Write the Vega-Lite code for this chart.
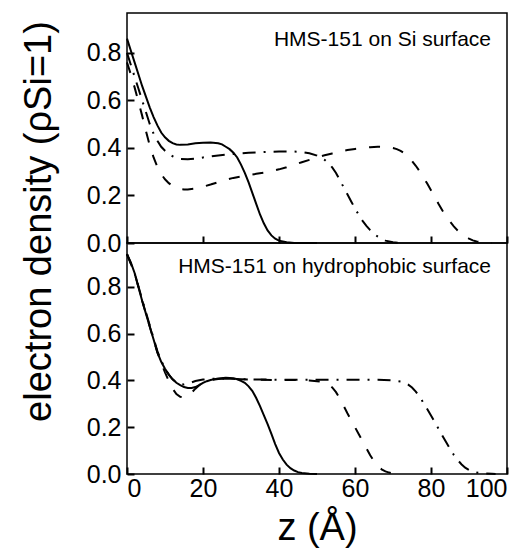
{
  "$schema": "https://vega.github.io/schema/vega-lite/v6.json",
  "padding": {"left": 19, "top": 12, "right": 5, "bottom": 0},
  "bounds": "flush",
  "spacing": 0,
  "config": {
    "font": "Liberation Sans",
    "view": {"stroke": "#000", "strokeWidth": 1.5},
    "axis": {
      "domain": false, "grid": false,
      "labelColor": "#000", "labelFont": "Liberation Sans", "labelFontSize": 25,
      "titleFont": "Liberation Sans", "titleFontSize": 38, "titleFontWeight": "normal", "titleColor": "#000",
      "labelOverlap": false
    }
  },
  "datasets": {
    "labels": [
      {"panel": "Si", "label": "HMS-151 on Si surface"},
      {"panel": "hydrophobic", "label": "HMS-151 on hydrophobic surface"}
    ],
    "curves": [
      {"panel":"Si","series":"A","z":0,"rho":0.86},{"panel":"Si","series":"A","z":1,"rho":0.81},{"panel":"Si","series":"A","z":2,"rho":0.76},{"panel":"Si","series":"A","z":3,"rho":0.71},{"panel":"Si","series":"A","z":4,"rho":0.66},{"panel":"Si","series":"A","z":5,"rho":0.615},{"panel":"Si","series":"A","z":6,"rho":0.57},{"panel":"Si","series":"A","z":7,"rho":0.53},{"panel":"Si","series":"A","z":8,"rho":0.495},{"panel":"Si","series":"A","z":9,"rho":0.465},{"panel":"Si","series":"A","z":10,"rho":0.445},{"panel":"Si","series":"A","z":11,"rho":0.43},{"panel":"Si","series":"A","z":12,"rho":0.42},{"panel":"Si","series":"A","z":13,"rho":0.415},{"panel":"Si","series":"A","z":14,"rho":0.413},{"panel":"Si","series":"A","z":16,"rho":0.415},{"panel":"Si","series":"A","z":18,"rho":0.42},{"panel":"Si","series":"A","z":20,"rho":0.422},{"panel":"Si","series":"A","z":22,"rho":0.423},{"panel":"Si","series":"A","z":24,"rho":0.42},{"panel":"Si","series":"A","z":25,"rho":0.415},{"panel":"Si","series":"A","z":26,"rho":0.405},{"panel":"Si","series":"A","z":27,"rho":0.395},{"panel":"Si","series":"A","z":28,"rho":0.38},{"panel":"Si","series":"A","z":29,"rho":0.36},{"panel":"Si","series":"A","z":30,"rho":0.33},{"panel":"Si","series":"A","z":31,"rho":0.295},{"panel":"Si","series":"A","z":32,"rho":0.255},{"panel":"Si","series":"A","z":33,"rho":0.21},{"panel":"Si","series":"A","z":34,"rho":0.165},{"panel":"Si","series":"A","z":35,"rho":0.12},{"panel":"Si","series":"A","z":36,"rho":0.083},{"panel":"Si","series":"A","z":37,"rho":0.053},{"panel":"Si","series":"A","z":38,"rho":0.032},{"panel":"Si","series":"A","z":39,"rho":0.018},{"panel":"Si","series":"A","z":40,"rho":0.01},{"panel":"Si","series":"A","z":42,"rho":0.003},{"panel":"Si","series":"A","z":44,"rho":0},{"panel":"Si","series":"A","z":50,"rho":0},

      {"panel":"Si","series":"B","z":0,"rho":0.76},{"panel":"Si","series":"B","z":1,"rho":0.71},{"panel":"Si","series":"B","z":2,"rho":0.655},{"panel":"Si","series":"B","z":3,"rho":0.595},{"panel":"Si","series":"B","z":4,"rho":0.535},{"panel":"Si","series":"B","z":5,"rho":0.47},{"panel":"Si","series":"B","z":6,"rho":0.41},{"panel":"Si","series":"B","z":7,"rho":0.36},{"panel":"Si","series":"B","z":8,"rho":0.32},{"panel":"Si","series":"B","z":9,"rho":0.29},{"panel":"Si","series":"B","z":10,"rho":0.268},{"panel":"Si","series":"B","z":11,"rho":0.252},{"panel":"Si","series":"B","z":12,"rho":0.24},{"panel":"Si","series":"B","z":13,"rho":0.232},{"panel":"Si","series":"B","z":14,"rho":0.227},{"panel":"Si","series":"B","z":15,"rho":0.225},{"panel":"Si","series":"B","z":16,"rho":0.225},{"panel":"Si","series":"B","z":18,"rho":0.229},{"panel":"Si","series":"B","z":20,"rho":0.237},{"panel":"Si","series":"B","z":22,"rho":0.246},{"panel":"Si","series":"B","z":24,"rho":0.256},{"panel":"Si","series":"B","z":26,"rho":0.266},{"panel":"Si","series":"B","z":28,"rho":0.274},{"panel":"Si","series":"B","z":30,"rho":0.28},{"panel":"Si","series":"B","z":32,"rho":0.286},{"panel":"Si","series":"B","z":34,"rho":0.291},{"panel":"Si","series":"B","z":36,"rho":0.296},{"panel":"Si","series":"B","z":38,"rho":0.302},{"panel":"Si","series":"B","z":40,"rho":0.31},{"panel":"Si","series":"B","z":42,"rho":0.319},{"panel":"Si","series":"B","z":44,"rho":0.329},{"panel":"Si","series":"B","z":46,"rho":0.34},{"panel":"Si","series":"B","z":48,"rho":0.35},{"panel":"Si","series":"B","z":50,"rho":0.36},{"panel":"Si","series":"B","z":52,"rho":0.369},{"panel":"Si","series":"B","z":54,"rho":0.377},{"panel":"Si","series":"B","z":56,"rho":0.385},{"panel":"Si","series":"B","z":58,"rho":0.391},{"panel":"Si","series":"B","z":60,"rho":0.396},{"panel":"Si","series":"B","z":62,"rho":0.4},{"panel":"Si","series":"B","z":64,"rho":0.403},{"panel":"Si","series":"B","z":66,"rho":0.405},{"panel":"Si","series":"B","z":68,"rho":0.405},{"panel":"Si","series":"B","z":70,"rho":0.4},{"panel":"Si","series":"B","z":71,"rho":0.395},{"panel":"Si","series":"B","z":72,"rho":0.388},{"panel":"Si","series":"B","z":73,"rho":0.378},{"panel":"Si","series":"B","z":74,"rho":0.362},{"panel":"Si","series":"B","z":75,"rho":0.345},{"panel":"Si","series":"B","z":76,"rho":0.325},{"panel":"Si","series":"B","z":77,"rho":0.302},{"panel":"Si","series":"B","z":78,"rho":0.277},{"panel":"Si","series":"B","z":79,"rho":0.25},{"panel":"Si","series":"B","z":80,"rho":0.222},{"panel":"Si","series":"B","z":81,"rho":0.193},{"panel":"Si","series":"B","z":82,"rho":0.164},{"panel":"Si","series":"B","z":83,"rho":0.137},{"panel":"Si","series":"B","z":84,"rho":0.112},{"panel":"Si","series":"B","z":85,"rho":0.09},{"panel":"Si","series":"B","z":86,"rho":0.07},{"panel":"Si","series":"B","z":87,"rho":0.053},{"panel":"Si","series":"B","z":88,"rho":0.039},{"panel":"Si","series":"B","z":89,"rho":0.027},{"panel":"Si","series":"B","z":90,"rho":0.018},{"panel":"Si","series":"B","z":91,"rho":0.011},{"panel":"Si","series":"B","z":92,"rho":0.006},{"panel":"Si","series":"B","z":94,"rho":0.002},{"panel":"Si","series":"B","z":96,"rho":0},

      {"panel":"Si","series":"C","z":0,"rho":0.8},{"panel":"Si","series":"C","z":1,"rho":0.75},{"panel":"Si","series":"C","z":2,"rho":0.7},{"panel":"Si","series":"C","z":3,"rho":0.65},{"panel":"Si","series":"C","z":4,"rho":0.6},{"panel":"Si","series":"C","z":5,"rho":0.55},{"panel":"Si","series":"C","z":6,"rho":0.5},{"panel":"Si","series":"C","z":7,"rho":0.46},{"panel":"Si","series":"C","z":8,"rho":0.43},{"panel":"Si","series":"C","z":9,"rho":0.405},{"panel":"Si","series":"C","z":10,"rho":0.388},{"panel":"Si","series":"C","z":11,"rho":0.375},{"panel":"Si","series":"C","z":12,"rho":0.365},{"panel":"Si","series":"C","z":13,"rho":0.358},{"panel":"Si","series":"C","z":14,"rho":0.354},{"panel":"Si","series":"C","z":16,"rho":0.352},{"panel":"Si","series":"C","z":18,"rho":0.355},{"panel":"Si","series":"C","z":20,"rho":0.36},{"panel":"Si","series":"C","z":24,"rho":0.368},{"panel":"Si","series":"C","z":28,"rho":0.375},{"panel":"Si","series":"C","z":32,"rho":0.38},{"panel":"Si","series":"C","z":36,"rho":0.383},{"panel":"Si","series":"C","z":40,"rho":0.385},{"panel":"Si","series":"C","z":44,"rho":0.385},{"panel":"Si","series":"C","z":46,"rho":0.383},{"panel":"Si","series":"C","z":48,"rho":0.378},{"panel":"Si","series":"C","z":50,"rho":0.368},{"panel":"Si","series":"C","z":52,"rho":0.35},{"panel":"Si","series":"C","z":53,"rho":0.336},{"panel":"Si","series":"C","z":54,"rho":0.318},{"panel":"Si","series":"C","z":55,"rho":0.295},{"panel":"Si","series":"C","z":56,"rho":0.265},{"panel":"Si","series":"C","z":57,"rho":0.235},{"panel":"Si","series":"C","z":58,"rho":0.205},{"panel":"Si","series":"C","z":59,"rho":0.175},{"panel":"Si","series":"C","z":60,"rho":0.145},{"panel":"Si","series":"C","z":61,"rho":0.118},{"panel":"Si","series":"C","z":62,"rho":0.093},{"panel":"Si","series":"C","z":63,"rho":0.072},{"panel":"Si","series":"C","z":64,"rho":0.054},{"panel":"Si","series":"C","z":65,"rho":0.039},{"panel":"Si","series":"C","z":66,"rho":0.027},{"panel":"Si","series":"C","z":67,"rho":0.017},{"panel":"Si","series":"C","z":68,"rho":0.01},{"panel":"Si","series":"C","z":70,"rho":0.003},{"panel":"Si","series":"C","z":72,"rho":0},

      {"panel":"hydrophobic","series":"A","z":0,"rho":0.94},{"panel":"hydrophobic","series":"A","z":1,"rho":0.905},{"panel":"hydrophobic","series":"A","z":2,"rho":0.86},{"panel":"hydrophobic","series":"A","z":3,"rho":0.8},{"panel":"hydrophobic","series":"A","z":4,"rho":0.74},{"panel":"hydrophobic","series":"A","z":5,"rho":0.685},{"panel":"hydrophobic","series":"A","z":6,"rho":0.63},{"panel":"hydrophobic","series":"A","z":7,"rho":0.575},{"panel":"hydrophobic","series":"A","z":8,"rho":0.52},{"panel":"hydrophobic","series":"A","z":9,"rho":0.48},{"panel":"hydrophobic","series":"A","z":10,"rho":0.45},{"panel":"hydrophobic","series":"A","z":11,"rho":0.425},{"panel":"hydrophobic","series":"A","z":12,"rho":0.405},{"panel":"hydrophobic","series":"A","z":13,"rho":0.39},{"panel":"hydrophobic","series":"A","z":14,"rho":0.38},{"panel":"hydrophobic","series":"A","z":15,"rho":0.372},{"panel":"hydrophobic","series":"A","z":16,"rho":0.368},{"panel":"hydrophobic","series":"A","z":17,"rho":0.368},{"panel":"hydrophobic","series":"A","z":18,"rho":0.372},{"panel":"hydrophobic","series":"A","z":19,"rho":0.38},{"panel":"hydrophobic","series":"A","z":20,"rho":0.39},{"panel":"hydrophobic","series":"A","z":21,"rho":0.397},{"panel":"hydrophobic","series":"A","z":22,"rho":0.402},{"panel":"hydrophobic","series":"A","z":24,"rho":0.409},{"panel":"hydrophobic","series":"A","z":26,"rho":0.412},{"panel":"hydrophobic","series":"A","z":28,"rho":0.41},{"panel":"hydrophobic","series":"A","z":29,"rho":0.405},{"panel":"hydrophobic","series":"A","z":30,"rho":0.398},{"panel":"hydrophobic","series":"A","z":31,"rho":0.39},{"panel":"hydrophobic","series":"A","z":32,"rho":0.375},{"panel":"hydrophobic","series":"A","z":33,"rho":0.355},{"panel":"hydrophobic","series":"A","z":34,"rho":0.325},{"panel":"hydrophobic","series":"A","z":35,"rho":0.29},{"panel":"hydrophobic","series":"A","z":36,"rho":0.252},{"panel":"hydrophobic","series":"A","z":37,"rho":0.213},{"panel":"hydrophobic","series":"A","z":38,"rho":0.172},{"panel":"hydrophobic","series":"A","z":39,"rho":0.128},{"panel":"hydrophobic","series":"A","z":40,"rho":0.09},{"panel":"hydrophobic","series":"A","z":41,"rho":0.062},{"panel":"hydrophobic","series":"A","z":42,"rho":0.04},{"panel":"hydrophobic","series":"A","z":43,"rho":0.025},{"panel":"hydrophobic","series":"A","z":44,"rho":0.015},{"panel":"hydrophobic","series":"A","z":45,"rho":0.008},{"panel":"hydrophobic","series":"A","z":46,"rho":0.004},{"panel":"hydrophobic","series":"A","z":48,"rho":0.001},{"panel":"hydrophobic","series":"A","z":50,"rho":0},

      {"panel":"hydrophobic","series":"B","z":0,"rho":0.94},{"panel":"hydrophobic","series":"B","z":2,"rho":0.86},{"panel":"hydrophobic","series":"B","z":4,"rho":0.74},{"panel":"hydrophobic","series":"B","z":6,"rho":0.63},{"panel":"hydrophobic","series":"B","z":8,"rho":0.52},{"panel":"hydrophobic","series":"B","z":9,"rho":0.475},{"panel":"hydrophobic","series":"B","z":10,"rho":0.435},{"panel":"hydrophobic","series":"B","z":11,"rho":0.398},{"panel":"hydrophobic","series":"B","z":12,"rho":0.365},{"panel":"hydrophobic","series":"B","z":13,"rho":0.342},{"panel":"hydrophobic","series":"B","z":14,"rho":0.33},{"panel":"hydrophobic","series":"B","z":15,"rho":0.328},{"panel":"hydrophobic","series":"B","z":16,"rho":0.335},{"panel":"hydrophobic","series":"B","z":17,"rho":0.348},{"panel":"hydrophobic","series":"B","z":18,"rho":0.365},{"panel":"hydrophobic","series":"B","z":19,"rho":0.38},{"panel":"hydrophobic","series":"B","z":20,"rho":0.392},{"panel":"hydrophobic","series":"B","z":22,"rho":0.402},{"panel":"hydrophobic","series":"B","z":24,"rho":0.406},{"panel":"hydrophobic","series":"B","z":26,"rho":0.408},{"panel":"hydrophobic","series":"B","z":30,"rho":0.405},{"panel":"hydrophobic","series":"B","z":35,"rho":0.403},{"panel":"hydrophobic","series":"B","z":40,"rho":0.402},{"panel":"hydrophobic","series":"B","z":45,"rho":0.402},{"panel":"hydrophobic","series":"B","z":48,"rho":0.4},{"panel":"hydrophobic","series":"B","z":50,"rho":0.397},{"panel":"hydrophobic","series":"B","z":51,"rho":0.395},{"panel":"hydrophobic","series":"B","z":52,"rho":0.39},{"panel":"hydrophobic","series":"B","z":53,"rho":0.383},{"panel":"hydrophobic","series":"B","z":54,"rho":0.37},{"panel":"hydrophobic","series":"B","z":55,"rho":0.35},{"panel":"hydrophobic","series":"B","z":56,"rho":0.323},{"panel":"hydrophobic","series":"B","z":57,"rho":0.292},{"panel":"hydrophobic","series":"B","z":58,"rho":0.26},{"panel":"hydrophobic","series":"B","z":59,"rho":0.23},{"panel":"hydrophobic","series":"B","z":60,"rho":0.2},{"panel":"hydrophobic","series":"B","z":61,"rho":0.17},{"panel":"hydrophobic","series":"B","z":62,"rho":0.14},{"panel":"hydrophobic","series":"B","z":63,"rho":0.11},{"panel":"hydrophobic","series":"B","z":64,"rho":0.08},{"panel":"hydrophobic","series":"B","z":65,"rho":0.055},{"panel":"hydrophobic","series":"B","z":66,"rho":0.035},{"panel":"hydrophobic","series":"B","z":67,"rho":0.02},{"panel":"hydrophobic","series":"B","z":68,"rho":0.011},{"panel":"hydrophobic","series":"B","z":69,"rho":0.006},{"panel":"hydrophobic","series":"B","z":70,"rho":0.003},{"panel":"hydrophobic","series":"B","z":72,"rho":0},

      {"panel":"hydrophobic","series":"C","z":0,"rho":0.94},{"panel":"hydrophobic","series":"C","z":2,"rho":0.86},{"panel":"hydrophobic","series":"C","z":4,"rho":0.745},{"panel":"hydrophobic","series":"C","z":6,"rho":0.635},{"panel":"hydrophobic","series":"C","z":8,"rho":0.525},{"panel":"hydrophobic","series":"C","z":9,"rho":0.485},{"panel":"hydrophobic","series":"C","z":10,"rho":0.45},{"panel":"hydrophobic","series":"C","z":11,"rho":0.425},{"panel":"hydrophobic","series":"C","z":12,"rho":0.405},{"panel":"hydrophobic","series":"C","z":13,"rho":0.392},{"panel":"hydrophobic","series":"C","z":14,"rho":0.385},{"panel":"hydrophobic","series":"C","z":15,"rho":0.383},{"panel":"hydrophobic","series":"C","z":16,"rho":0.386},{"panel":"hydrophobic","series":"C","z":17,"rho":0.392},{"panel":"hydrophobic","series":"C","z":18,"rho":0.398},{"panel":"hydrophobic","series":"C","z":20,"rho":0.404},{"panel":"hydrophobic","series":"C","z":22,"rho":0.407},{"panel":"hydrophobic","series":"C","z":26,"rho":0.408},{"panel":"hydrophobic","series":"C","z":30,"rho":0.405},{"panel":"hydrophobic","series":"C","z":40,"rho":0.403},{"panel":"hydrophobic","series":"C","z":50,"rho":0.403},{"panel":"hydrophobic","series":"C","z":60,"rho":0.403},{"panel":"hydrophobic","series":"C","z":66,"rho":0.403},{"panel":"hydrophobic","series":"C","z":70,"rho":0.4},{"panel":"hydrophobic","series":"C","z":72,"rho":0.396},{"panel":"hydrophobic","series":"C","z":73,"rho":0.39},{"panel":"hydrophobic","series":"C","z":74,"rho":0.382},{"panel":"hydrophobic","series":"C","z":75,"rho":0.37},{"panel":"hydrophobic","series":"C","z":76,"rho":0.352},{"panel":"hydrophobic","series":"C","z":77,"rho":0.33},{"panel":"hydrophobic","series":"C","z":78,"rho":0.305},{"panel":"hydrophobic","series":"C","z":79,"rho":0.278},{"panel":"hydrophobic","series":"C","z":80,"rho":0.25},{"panel":"hydrophobic","series":"C","z":81,"rho":0.222},{"panel":"hydrophobic","series":"C","z":82,"rho":0.193},{"panel":"hydrophobic","series":"C","z":83,"rho":0.164},{"panel":"hydrophobic","series":"C","z":84,"rho":0.136},{"panel":"hydrophobic","series":"C","z":85,"rho":0.108},{"panel":"hydrophobic","series":"C","z":86,"rho":0.082},{"panel":"hydrophobic","series":"C","z":87,"rho":0.06},{"panel":"hydrophobic","series":"C","z":88,"rho":0.042},{"panel":"hydrophobic","series":"C","z":89,"rho":0.027},{"panel":"hydrophobic","series":"C","z":90,"rho":0.017},{"panel":"hydrophobic","series":"C","z":91,"rho":0.01},{"panel":"hydrophobic","series":"C","z":92,"rho":0.006},{"panel":"hydrophobic","series":"C","z":94,"rho":0.003},{"panel":"hydrophobic","series":"C","z":96,"rho":0.001},{"panel":"hydrophobic","series":"C","z":97,"rho":0}
    ]
  },
  "vconcat": [
    {
      "width": 380,
      "height": 230,
      "layer": [
        {
          "data": {"name": "curves"},
          "transform": [{"filter": "datum.panel === 'Si' && datum.series === 'A'"}],
          "mark": {"type": "line", "strokeWidth": 2, "color": "#000"},
          "encoding": {
            "x": {
              "field": "z", "type": "quantitative",
              "scale": {"domain": [0, 100], "nice": false},
              "axis": {"values": [0, 20, 40, 60, 80, 100], "labels": false, "title": null, "tickSize": -7, "tickColor": "black", "tickWidth": 2}
            },
            "y": {
              "field": "rho", "type": "quantitative",
              "scale": {"domain": [0, 0.968], "nice": false},
              "axis": {
                "values": [0, 0.2, 0.4, 0.6, 0.8], "format": ".1f",
                "tickSize": -7, "tickColor": "black", "tickWidth": 2, "labelPadding": 13,
                "title": "electron density (ρSi=1)", "titleY": 208, "titlePadding": 28
              }
            }
          }
        },
        {
          "data": {"name": "curves"},
          "transform": [{"filter": "datum.panel === 'Si' && datum.series === 'B'"}],
          "mark": {"type": "line", "strokeWidth": 2, "color": "#000", "strokeDash": [11, 13]},
          "encoding": {
            "x": {"field": "z", "type": "quantitative"},
            "y": {"field": "rho", "type": "quantitative"}
          }
        },
        {
          "data": {"name": "curves"},
          "transform": [{"filter": "datum.panel === 'Si' && datum.series === 'C'"}],
          "mark": {"type": "line", "strokeWidth": 2, "color": "#000", "strokeDash": [13, 8, 2, 8]},
          "encoding": {
            "x": {"field": "z", "type": "quantitative"},
            "y": {"field": "rho", "type": "quantitative"}
          }
        },
        {
          "data": {"name": "labels"},
          "transform": [{"filter": "datum.panel === 'Si'"}],
          "mark": {"type": "text", "align": "right", "baseline": "alphabetic", "fontSize": 21, "color": "#000", "font": "Liberation Sans"},
          "encoding": {
            "x": {"datum": 95.8, "type": "quantitative"},
            "y": {"datum": 0.83, "type": "quantitative"},
            "text": {"field": "label"}
          }
        }
      ]
    },
    {
      "width": 380,
      "height": 231,
      "layer": [
        {
          "data": {"name": "curves"},
          "transform": [{"filter": "datum.panel === 'hydrophobic' && datum.series === 'A'"}],
          "mark": {"type": "line", "strokeWidth": 2, "color": "#000"},
          "encoding": {
            "x": {
              "field": "z", "type": "quantitative",
              "scale": {"domain": [0, 100], "nice": false},
              "axis": {"values": [0, 20, 40, 60, 80, 100], "tickSize": -7, "tickColor": "black", "tickWidth": 2, "labelPadding": 9, "title": "z (Å)", "titlePadding": 8}
            },
            "y": {
              "field": "rho", "type": "quantitative",
              "scale": {"domain": [0, 0.988], "nice": false},
              "axis": {"values": [0, 0.2, 0.4, 0.6, 0.8], "format": ".1f", "tickSize": -7, "tickColor": "black", "tickWidth": 2, "labelPadding": 13, "title": null}
            }
          }
        },
        {
          "data": {"name": "curves"},
          "transform": [{"filter": "datum.panel === 'hydrophobic' && datum.series === 'B'"}],
          "mark": {"type": "line", "strokeWidth": 2, "color": "#000", "strokeDash": [11, 13]},
          "encoding": {
            "x": {"field": "z", "type": "quantitative"},
            "y": {"field": "rho", "type": "quantitative"}
          }
        },
        {
          "data": {"name": "curves"},
          "transform": [{"filter": "datum.panel === 'hydrophobic' && datum.series === 'C'"}],
          "mark": {"type": "line", "strokeWidth": 2, "color": "#000", "strokeDash": [13, 8, 2, 8]},
          "encoding": {
            "x": {"field": "z", "type": "quantitative"},
            "y": {"field": "rho", "type": "quantitative"}
          }
        },
        {
          "data": {"name": "labels"},
          "transform": [{"filter": "datum.panel === 'hydrophobic'"}],
          "mark": {"type": "text", "align": "right", "baseline": "alphabetic", "fontSize": 21, "color": "#000", "font": "Liberation Sans"},
          "encoding": {
            "x": {"datum": 95.8, "type": "quantitative"},
            "y": {"datum": 0.859, "type": "quantitative"},
            "text": {"field": "label"}
          }
        }
      ]
    }
  ]
}
